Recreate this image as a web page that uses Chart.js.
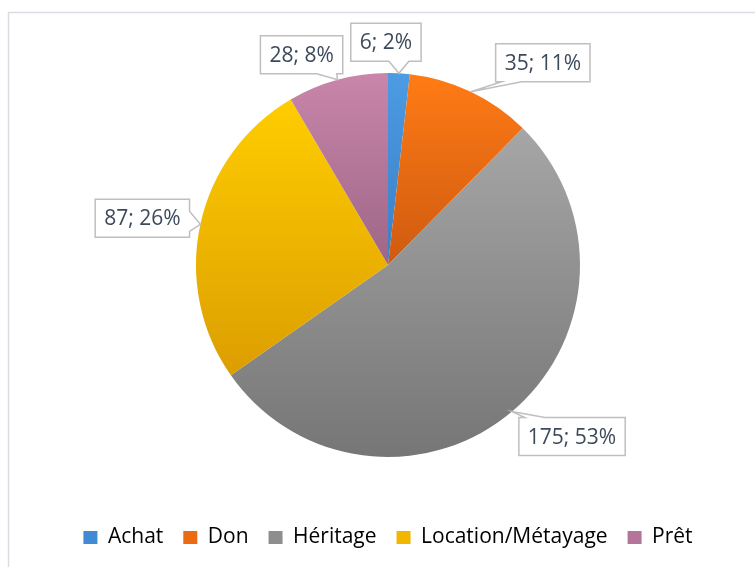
<!DOCTYPE html>
<html>
<head>
<meta charset="utf-8">
<script src="https://cdn.jsdelivr.net/npm/chart.js@4.4.0/dist/chart.umd.min.js"></script>
<style>
  html, body { margin: 0; padding: 0; background: #fff; }
  canvas { display: block; }
</style>
</head>
<body>
<canvas id="pieChart" width="755" height="567"></canvas>
<script>
const categories = ['Achat', 'Don', 'Héritage', 'Location/Métayage', 'Prêt'];
const counts = [6, 35, 175, 87, 28];

// top and bottom shade of each slice, plus a flat colour for the legend
const topColors = ['#4c9be3', '#ff7b15', '#a6a6a6', '#ffcd00', '#c886aa'];
const bottomColors = ['#3a7fc6', '#cf5a10', '#767676', '#dc9e00', '#9e6686'];
const legendColors = ['#418ad4', '#ec6a12', '#8e8e8e', '#f0b600', '#b47698'];

// callout box centre, relative to the point on the rim of its slice
const calloutOffsets = [[-13, -31], [72, -29], [60, 25], [-58, -6], [-36, -25]];

const textColor = '#3d4a5c';
const fontFamily = "'Open Sans', sans-serif";
const pieRadius = 192;

// vertical gradient per slice, computed from the slice's own extent
function sliceFill(c) {
    const area = c.chart.chartArea;
    const i = c.dataIndex;
    if (!area) return legendColors[i];
    const cx = (area.left + area.right) / 2;
    const cy = (area.top + area.bottom) / 2;
    const data = c.dataset.data;
    const total = data.reduce((a, b) => a + b, 0);
    let before = 0;
    for (let k = 0; k < i; k++) before += data[k];
    const a0 = -Math.PI / 2 + before / total * 2 * Math.PI;
    const a1 = a0 + data[i] / total * 2 * Math.PI;
    let minY = cy, maxY = cy;
    for (let k = 0; k <= 60; k++) {
        const y = cy + Math.sin(a0 + (a1 - a0) * k / 60) * pieRadius;
        minY = Math.min(minY, y);
        maxY = Math.max(maxY, y);
    }
    const g = c.chart.ctx.createLinearGradient(0, minY, 0, maxY);
    g.addColorStop(0, topColors[i]);
    g.addColorStop(1, bottomColors[i]);
    return g;
}

const framePlugin = {
    id: 'frame',
    beforeDraw(chart) {
        const ctx = chart.ctx;
        ctx.save();
        ctx.fillStyle = '#fff';
        ctx.fillRect(0, 0, chart.width, chart.height);
        ctx.strokeStyle = '#d9dde3';
        ctx.lineWidth = 1.5;
        ctx.strokeRect(8.5, 12.5, chart.width + 20, chart.height + 20);
        ctx.restore();
    }
};

// Excel style callouts: white box with a wedge pointing at the slice
const calloutPlugin = {
    id: 'callouts',
    afterDatasetsDraw(chart) {
        const ctx = chart.ctx;
        const data = chart.data.datasets[0].data;
        const total = data.reduce((a, b) => a + b, 0);
        ctx.save();
        ctx.font = '21px ' + fontFamily;
        chart.getDatasetMeta(0).data.forEach((arc, i) => {
            const p = arc.getProps(['x', 'y', 'startAngle', 'endAngle', 'outerRadius'], true);
            const mid = (p.startAngle + p.endAngle) / 2;
            const tx = p.x + Math.cos(mid) * p.outerRadius;
            const ty = p.y + Math.sin(mid) * p.outerRadius;
            const text = data[i] + '; ' + Math.round(data[i] / total * 100) + '%';
            const w = ctx.measureText(text).width + 18;
            const h = 38;
            const bx = tx + calloutOffsets[i][0];
            const by = ty + calloutOffsets[i][1];
            const l = bx - w / 2, r = bx + w / 2, t = by - h / 2, b = by + h / 2;
            const half = 10, margin = 16;
            const clamp = (v, lo, hi) => Math.max(lo, Math.min(hi, v));
            let pts;
            if (ty > b) {
                const c = clamp(tx, l + margin, r - margin);
                pts = [[l, t], [r, t], [r, b], [c + half, b], [tx, ty], [c - half, b], [l, b]];
            } else if (ty < t) {
                const c = clamp(tx, l + margin, r - margin);
                pts = [[l, t], [c - half, t], [tx, ty], [c + half, t], [r, t], [r, b], [l, b]];
            } else if (tx > r) {
                const c = clamp(ty, t + margin, b - margin);
                pts = [[l, t], [r, t], [r, c - half], [tx, ty], [r, c + half], [r, b], [l, b]];
            } else {
                const c = clamp(ty, t + margin, b - margin);
                pts = [[l, t], [r, t], [r, b], [l, b], [l, c + half], [tx, ty], [l, c - half]];
            }
            ctx.beginPath();
            pts.forEach((pt, k) => k ? ctx.lineTo(pt[0], pt[1]) : ctx.moveTo(pt[0], pt[1]));
            ctx.closePath();
            ctx.fillStyle = '#fff';
            ctx.fill();
            ctx.strokeStyle = '#bfbfbf';
            ctx.lineWidth = 1.5;
            ctx.stroke();
            ctx.fillStyle = textColor;
            ctx.textAlign = 'center';
            ctx.textBaseline = 'middle';
            ctx.fillText(text, bx, by + 1);
        });
        ctx.restore();
    }
};

const pieCtx = document.getElementById('pieChart').getContext('2d');
new Chart(pieCtx, {
    type: 'pie',
    data: {
        labels: categories,
        datasets: [{
            data: counts,
            backgroundColor: sliceFill,
            borderWidth: 0,
            radius: pieRadius
        }]
    },
    options: {
        responsive: false,
        animation: false,
        layout: { padding: { top: 23, bottom: 9, left: 21, right: 0 } },
        plugins: {
            legend: {
                position: 'bottom',
                labels: {
                    font: { family: fontFamily, size: 21 },
                    color: textColor,
                    boxWidth: 14,
                    boxHeight: 13,
                    padding: 20,
                    generateLabels: (chart) => chart.data.labels.map((label, i) => ({
                        text: label,
                        fillStyle: legendColors[i],
                        strokeStyle: legendColors[i],
                        lineWidth: 0,
                        index: i
                    }))
                }
            },
            tooltip: { enabled: false }
        }
    },
    plugins: [framePlugin, calloutPlugin]
});
</script>
</body>
</html>
